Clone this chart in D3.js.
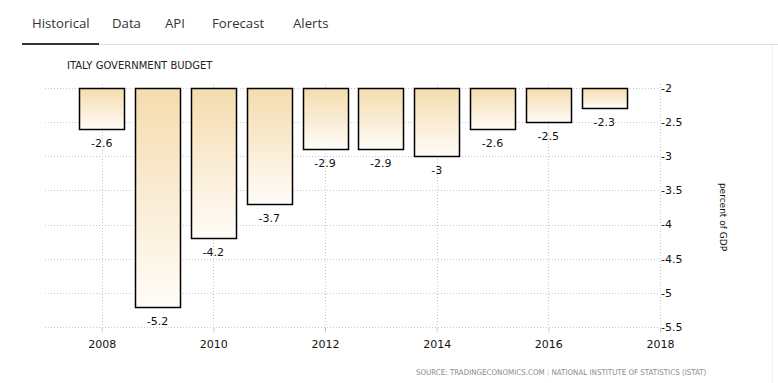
<!DOCTYPE html>
<html><head><meta charset="utf-8">
<script src="https://cdn.jsdelivr.net/npm/d3@7"></script>
<style>body{margin:0;background:#fff}svg{display:block}</style>
</head><body>
<svg id="c" width="778" height="383"></svg>
<script>
const tabs = ["Historical", "Data", "API", "Forecast", "Alerts"];
const years = [2008, 2009, 2010, 2011, 2012, 2013, 2014, 2015, 2016, 2017];
const values = [-2.6, -5.2, -4.2, -3.7, -2.9, -2.9, -3, -2.6, -2.5, -2.3];
const xTicks = [2008, 2010, 2012, 2014, 2016, 2018];
const yTicks = [-2, -2.5, -3, -3.5, -4, -4.5, -5, -5.5];
const title = "ITALY GOVERNMENT BUDGET";
const yLabel = "percent of GDP";
const source = ["SOURCE: TRADINGECONOMICS.COM", "|", "NATIONAL INSTITUTE OF STATISTICS (ISTAT)"];

const svg = d3.select("#c");
const font = "Tahoma, 'DejaVu Sans', Verdana, sans-serif";

// tabs
const tabX = [32, 112, 165, 212, 293];
svg.selectAll("text.tab").data(tabs).join("text")
  .attr("x", (d, i) => tabX[i]).attr("y", 28)
  .attr("font-family", "'Open Sans', 'Liberation Sans', Arial, sans-serif")
  .attr("font-size", 13.2).attr("fill", "#333").text(d => d);
svg.append("rect").attr("x", 99).attr("y", 44).attr("width", 679).attr("height", 1).attr("fill", "#e0e0e0");
svg.append("rect").attr("x", 22).attr("y", 43).attr("width", 77).attr("height", 2).attr("fill", "#333");
svg.append("rect").attr("x", 772).attr("y", 45).attr("width", 1).attr("height", 338).attr("fill", "#f0f0f0");

// title
svg.append("text").attr("x", 67).attr("y", 69).attr("font-family", font)
  .attr("font-size", 10).attr("fill", "#222").text(title);

const x = d3.scaleLinear().domain([2008, 2018]).range([101.7, 660]);
const y = d3.scaleLinear().domain([-5.5, -2]).range([327, 88]);
const bw = 45;

// grid
const grid = svg.append("g").attr("stroke", "#c8c8c8").attr("stroke-dasharray", "1,2").attr("stroke-width", 1);
grid.selectAll("line.h").data(yTicks).join("line")
  .attr("x1", 45).attr("x2", 660).attr("y1", d => Math.round(y(d)) + 0.5).attr("y2", d => Math.round(y(d)) + 0.5);
grid.selectAll("line.v").data(xTicks).join("line")
  .attr("x1", d => Math.round(x(d)) + 0.5).attr("x2", d => Math.round(x(d)) + 0.5)
  .attr("y1", 84).attr("y2", 327);

// x axis ticks
const xAxis = d3.axisBottom(x).tickValues(xTicks).tickFormat(d3.format("d")).tickSize(5).tickPadding(8);
const gx = svg.append("g").attr("transform", "translate(0,327.5)").call(xAxis);
gx.select(".domain").remove();
gx.selectAll("line").attr("stroke", "#c8c8c8");
gx.selectAll("text").attr("font-family", font).attr("font-size", 11).attr("fill", "#111");

// y axis labels
const yAxis = d3.axisRight(y).tickValues(yTicks).tickFormat(d => String(d)).tickSize(0).tickPadding(1);
const gy = svg.append("g").attr("transform", "translate(660,0)").call(yAxis);
gy.select(".domain").remove();
gy.selectAll("text").attr("font-family", font).attr("font-size", 11).attr("fill", "#111").attr("dy", "0.3em");

// gradient
const defs = svg.append("defs");
const grad = defs.append("linearGradient").attr("id", "bg").attr("x1", 0).attr("y1", 0).attr("x2", 0).attr("y2", 1);
grad.append("stop").attr("offset", "0%").attr("stop-color", "#f5dcae");
grad.append("stop").attr("offset", "100%").attr("stop-color", "#fffcf8");

const data = years.map((yr, i) => ({yr, v: values[i]}));
svg.selectAll("rect.bar").data(data).join("rect").attr("class", "bar")
  .attr("x", d => Math.round(x(d.yr) - bw / 2) + 0.5)
  .attr("y", y(-2) + 0.5)
  .attr("width", bw)
  .attr("height", d => Math.round(y(d.v) - y(-2)))
  .attr("fill", "url(#bg)").attr("stroke", "#000").attr("stroke-width", 1.5);

svg.selectAll("text.val").data(data).join("text").attr("class", "val")
  .attr("x", d => x(d.yr)).attr("y", d => y(d.v) + 18)
  .attr("text-anchor", "middle").attr("font-family", font).attr("font-size", 11).attr("fill", "#111")
  .text(d => String(d.v));

// y label
svg.append("text").attr("transform", "translate(720,217) rotate(90)")
  .attr("text-anchor", "middle").attr("font-family", font).attr("font-size", 9).attr("fill", "#111").text(yLabel);

// source
const st = svg.append("text").attr("x", 416).attr("y", 375).attr("font-family", "'DejaVu Sans Condensed', 'DejaVu Sans', sans-serif")
  .attr("font-stretch", "condensed").attr("font-size", 7.9).attr("fill", "#8a8a8a");
st.append("tspan").text(source[0] + " ");
st.append("tspan").attr("fill", "#ccc").text(source[1]);
st.append("tspan").text(" " + source[2]);
</script>
</body></html>
